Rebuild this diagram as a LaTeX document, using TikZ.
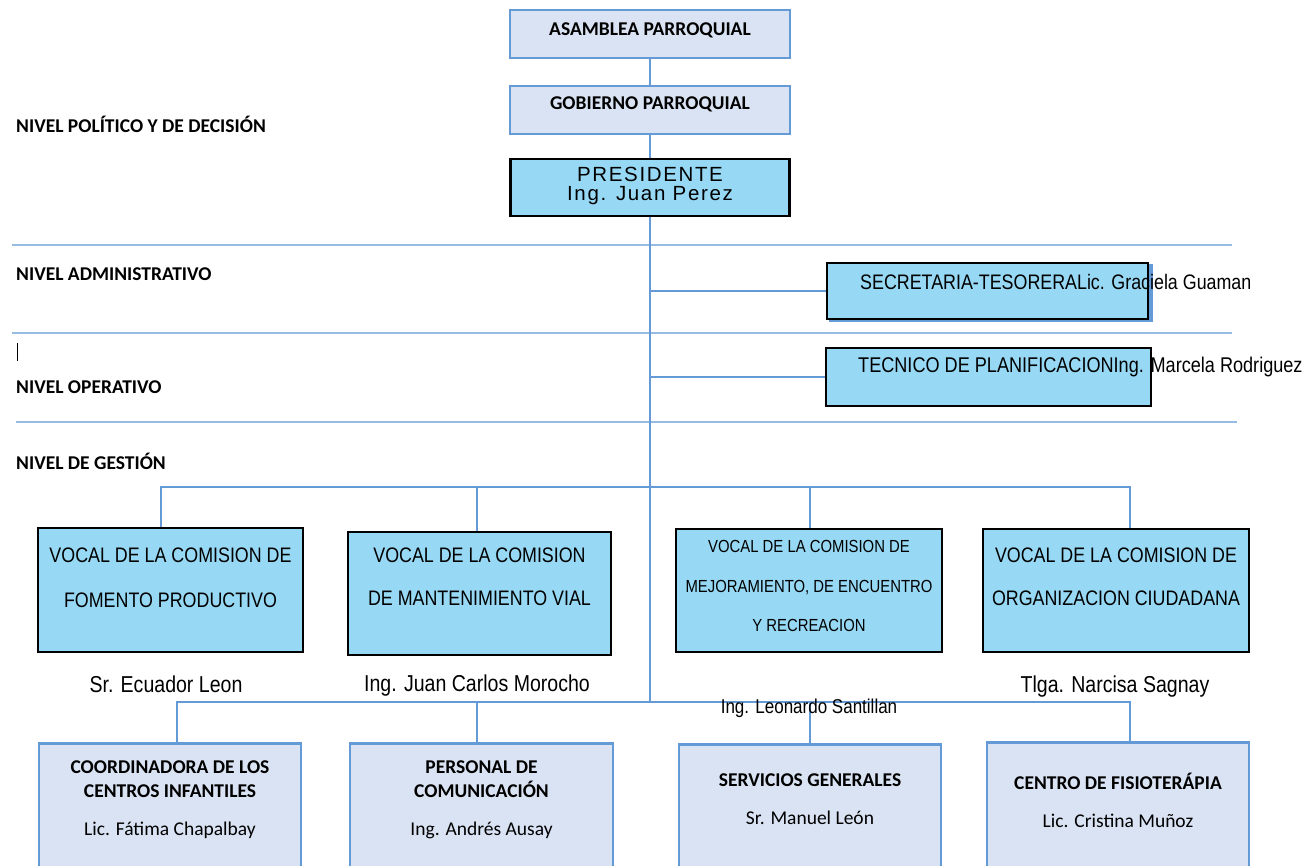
\documentclass[tikz,border=0pt]{standalone}
\usepackage{fontspec}
\setmainfont{Liberation Sans}
\newfontfamily\calibri{Carlito}
\newfontfamily\angosta[FakeStretch=0.85]{Liberation Sans}
\newfontfamily\arialesp[LetterSpace=8]{Liberation Sans}
\usetikzlibrary{calc}

\definecolor{lavanda}{RGB}{218,227,243}
\definecolor{azul}{RGB}{100,155,215}
\definecolor{azulclaro}{RGB}{150,188,228}
\definecolor{cian}{RGB}{151,217,245}

% caja de texto: alto, ancho, espacio arriba, contenido
\newcommand{\caja}[4]{\begin{minipage}[c][#1pt][t]{#2pt}\centering\vspace*{#3pt}#4\end{minipage}}

\tikzset{
	cajaazul/.style={draw=azul, line width=2.5pt, fill=lavanda, inner sep=0pt},
	cajanegra/.style={draw=black, line width=2.8pt, fill=cian, inner sep=0pt},
	linea/.style={draw=azul, line width=2.5pt},
	separador/.style={draw=azulclaro, line width=1.2pt},
	nivel/.style={anchor=west, inner sep=0pt, font=\calibri\bfseries\fontsize{19.5}{22}\selectfont},
	nombre/.style={anchor=base, inner sep=0pt, font=\angosta\fontsize{23}{26}\selectfont},
}

\begin{document}
\begin{tikzpicture}[x=1pt, y=-1pt]
			%%%%% START %%%%%
			\useasboundingbox (0,0) rectangle (1312,865);
			
			\draw[separador] (12,245) -- (1232,245);
			\draw[separador] (12,333) -- (1232,333);
			\draw[separador] (16,422) -- (1237,422);
			
			\node[nivel] (politico) at (16,124) {NIVEL POLÍTICO Y DE DECISIÓN};
			\node[nivel] (admin) at (16,274) {NIVEL ADMINISTRATIVO};
			\node[nivel] (operativo) at (16,387) {NIVEL OPERATIVO};
			\node[nivel] (gestion-txt) at (16,461) {NIVEL DE GESTIÓN};
			\draw[line width=0.8pt] (17,343) -- (17,361);
			
			\node[cajaazul] (asamblea) at (650,34) {\caja{48}{280}{12.6}{\calibri\bfseries\fontsize{19.5}{22}\selectfont ASAMBLEA PARROQUIAL}};
			\node[cajaazul] (gobierno) at (650,110) {\caja{48}{280}{10.6}{\calibri\bfseries\fontsize{19.5}{22}\selectfont GOBIERNO PARROQUIAL}};
			\node[cajanegra] (pres) at (650,187.5) {\caja{57}{279}{8.5}{\arialesp\fontsize{20.5}{19}\selectfont PRESIDENTE\\Ing. Juan Perez}};
			
			\coordinate (fin) at (650,702);
			\coordinate (gestion) at (650,487);
			
			\draw[linea] (asamblea) -- (gobierno);
			\draw[linea] (gobierno) -- (pres);
			\draw[linea] (pres) -- (fin);
			
			\draw[draw=azul, fill=azul] (829,264) rectangle (1152,321);
			\node[cajanegra, minimum width=321pt, minimum height=56pt] (sec) at (987.5,291) {};
			\node[cajanegra, minimum width=325pt, minimum height=58pt] (tec) at (988.5,377) {};
			\draw[linea] (pres |- sec) -- (sec);
			\draw[linea] (pres |- tec) -- (tec);
			\node[nombre, anchor=west, font=\angosta\fontsize{21}{24}\selectfont] (sec-txt) at (860,282) {SECRETARIA-TESORERALic. Graciela Guaman};
			\node[nombre, anchor=west, font=\angosta\fontsize{21.3}{24}\selectfont] (tec-txt) at (858,367) {TECNICO DE PLANIFICACIONIng. Marcela Rodriguez};
			
			% vocales
			\node[cajanegra] (v1) at (170.5,590) {\caja{124}{265}{19.5}{\angosta\fontsize{21}{45}\selectfont VOCAL DE LA COMISION DE\\FOMENTO PRODUCTIVO}};
			\node[cajanegra] (v2) at (479.5,593.5) {\caja{123}{263}{15.5}{\angosta\fontsize{21}{43}\selectfont VOCAL DE LA COMISION\\DE MANTENIMIENTO VIAL}};
			\node[cajanegra] (v3) at (809,590.5) {\caja{123}{266}{11.75}{\angosta\fontsize{17.5}{39.5}\selectfont VOCAL DE LA COMISION DE\\MEJORAMIENTO, DE ENCUENTRO\\Y RECREACION}};
			\node[cajanegra] (v4) at (1116,590.5) {\caja{123}{266}{18.5}{\angosta\fontsize{21}{43}\selectfont VOCAL DE LA COMISION DE\\ORGANIZACION CIUDADANA}};
			
			\draw[linea] ([xshift=-9.5pt]v1.north) |- (gestion) -| ([xshift=14pt]v4.north);
			\draw[linea] ([xshift=-2.5pt]v2.north) -- ([xshift=-2.5pt]v2.north |- gestion);
			\draw[linea] ([xshift=1pt]v3.north) -- ([xshift=1pt]v3.north |- gestion);
			
			\node[nombre] (n1) at (166,692) {Sr. Ecuador Leon};
			\node[nombre] (n2) at (477,691) {Ing. Juan Carlos Morocho};
			\node[nombre] (n4) at (1115,692) {Tlga. Narcisa Sagnay};
			
			% personal
			\node[cajaazul, anchor=north] (b1) at (170,742) {\caja{160}{262}{17.5}{\calibri\bfseries\fontsize{19.5}{24}\selectfont COORDINADORA DE LOS\\CENTROS INFANTILES\\[14pt]\mdseries Lic. Fátima Chapalbay}};
			\node[cajaazul, anchor=north] (b2) at (481.5,742) {\caja{160}{263}{17.5}{\calibri\bfseries\fontsize{19.5}{24}\selectfont PERSONAL DE\\COMUNICACIÓN\\[14pt]\mdseries Ing. Andrés Ausay}};
			\node[cajaazul, anchor=north] (b3) at (810,743) {\caja{160}{262}{29.5}{\calibri\bfseries\fontsize{19.5}{38}\selectfont SERVICIOS GENERALES\\\mdseries Sr. Manuel León}};
			\node[cajaazul, anchor=north] (b4) at (1118,741) {\caja{160}{262}{30.5}{\calibri\bfseries\fontsize{19.5}{38}\selectfont CENTRO DE FISIOTERÁPIA\\\mdseries Lic. Cristina Muñoz}};
			
			\draw[linea] ([xshift=7pt]b1.north) |- (fin) -| ([xshift=12pt]b4.north);
			\draw[linea] ([xshift=-4.5pt]b2.north) -- ([xshift=-4.5pt]b2.north |- fin);
			\draw[linea] (b3.north) -- (b3.north |- fin);
			
			\node[nombre, font=\angosta\fontsize{20}{24}\selectfont] (n3) at (809,713) {Ing. Leonardo Santillan};
			%%%%% END %%%%%
\end{tikzpicture}
\end{document}
